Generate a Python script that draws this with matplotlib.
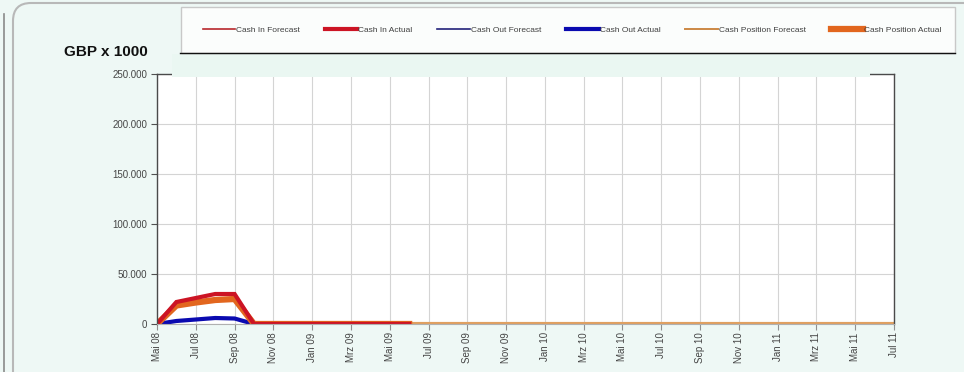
import matplotlib
matplotlib.use("Agg")
import matplotlib.pyplot as plt
import matplotlib.lines as mlines
from matplotlib.patches import FancyBboxPatch, Rectangle
from matplotlib.transforms import IdentityTransform
from matplotlib.ticker import FuncFormatter, MultipleLocator

plt.rcParams['font.family'] = ['Liberation Sans', 'DejaVu Sans']

# monthly values, Mai 08 .. Jul 11 (GBP x 1000 shown as full numbers)
cash_in_forecast = [0, 22000, 26000, 30000, 30000, 0, 0, 0, 0, 0,
                    0, 0, 0, 0, 0, 0, 0, 0, 0, 0,
                    0, 0, 0, 0, 0, 0, 0, 0, 0, 0,
                    0, 0, 0, 0, 0, 0, 0, 0, 0]
cash_out_forecast = [0, 3000, 4500, 6000, 5500, 0, 0, 0, 0, 0,
                     0, 0, 0, 0, 0, 0, 0, 0, 0, 0,
                     0, 0, 0, 0, 0, 0, 0, 0, 0, 0,
                     0, 0, 0, 0, 0, 0, 0, 0, 0]
cash_pos_forecast = [0, 18500, 21500, 24000, 25000, 0, 0, 0, 0, 0,
                     0, 0, 0, 0, 0, 0, 0, 0, 0, 0,
                     0, 0, 0, 0, 0, 0, 0, 0, 0, 0,
                     0, 0, 0, 0, 0, 0, 0, 0, 0]
# actuals only up to Jun 09
cash_in_actual = [0, 22000, 26000, 30000, 30000, 0, 0, 0, 0, 0, 0, 0, 0, 0]
cash_out_actual = [0, 3000, 4500, 6000, 5500, 0, 0, 0, 0, 0, 0, 0, 0, 0]
cash_pos_actual = [0, 18500, 21500, 24000, 25000, 0, 0, 0, 0, 0, 0, 0, 0, 0]

tick_labels = ["Mai 08", "Jul 08", "Sep 08", "Nov 08", "Jan 09", "Mrz 09", "Mai 09",
               "Jul 09", "Sep 09", "Nov 09", "Jan 10", "Mrz 10", "Mai 10", "Jul 10",
               "Sep 10", "Nov 10", "Jan 11", "Mrz 11", "Mai 11", "Jul 11"]

BG = "#eef8f5"
W, H = 964, 372

fig = plt.figure(figsize=(W / 100, H / 100), dpi=100, facecolor=BG)
ax = fig.add_axes([157 / W, 1 - 324 / H, (894 - 157) / W, (324 - 74) / H])
ax.set_facecolor("white")

# series: name, values, colour, width
series = [
    ("Cash In Forecast", cash_in_forecast, "#b8282c", 1.2),
    ("Cash Out Forecast", cash_out_forecast, "#22227a", 1.2),
    ("Cash Position Forecast", cash_pos_forecast, "#e0a060", 3.0),
    ("Cash Out Actual", cash_out_actual, "#0a0ab0", 3.0),
    ("Cash Position Actual", cash_pos_actual, "#e2661e", 4.5),
    ("Cash In Actual", cash_in_actual, "#cc1424", 3.0),
]
for name, vals, col, lw in series:
    ax.plot(range(len(vals)), vals, color=col, lw=lw, solid_joinstyle="miter")

ax.set_xlim(0, len(cash_in_forecast) - 1)
ax.set_ylim(0, 250000)
ax.set_xticks(range(0, len(cash_in_forecast), 2))
ax.set_xticklabels(tick_labels, rotation=90, fontsize=7, color="#454545")
ax.yaxis.set_major_locator(MultipleLocator(50000))
ax.yaxis.set_major_formatter(FuncFormatter(lambda v, p: f"{v:,.0f}".replace(",", ".")))
ax.tick_params(axis="y", labelsize=7, labelcolor="#454545", length=4, color="#505050", pad=3)
ax.tick_params(axis="x", length=4, color="#909090", pad=2)
ax.grid(True, color="#d4d4d4", lw=0.8)
ax.set_axisbelow(True)
for s in ["left", "right", "top"]:
    ax.spines[s].set_color("#4a4a4a")
    ax.spines[s].set_linewidth(1.0)
ax.spines["bottom"].set_color("#b0b0b0")

# legend handles get the legend-look widths
legend_style = {
    "Cash In Forecast": ("#b8282c", 1.2),
    "Cash In Actual": ("#cc1424", 3.0),
    "Cash Out Forecast": ("#22227a", 1.2),
    "Cash Out Actual": ("#0a0ab0", 3.0),
    "Cash Position Forecast": ("#cc8844", 1.4),
    "Cash Position Actual": ("#e2661e", 4.5),
}

fig.text(106 / W, 1 - 52 / H, "GBP x 1000", fontsize=11, fontweight="bold",
         ha="center", va="center", color="#111111")

# faint band over most of the top border
fig.add_artist(Rectangle((172, H - 77), 870 - 172, 23, transform=IdentityTransform(),
                         facecolor="#eaf7f2", edgecolor="none", zorder=1))

# outer frame
fig.add_artist(FancyBboxPatch((13, -40), W + 40, H - 3 + 40, transform=IdentityTransform(),
                              boxstyle="round,pad=0,rounding_size=18",
                              facecolor="none", edgecolor="#b8b8b8", lw=1.5, zorder=0.5))
fig.add_artist(mlines.Line2D([4, 4], [0, H - 14], transform=IdentityTransform(),
                             color="#8a8a8a", lw=1.2))

# legend box
fig.add_artist(Rectangle((181, H - 53), 955 - 181, 46, transform=IdentityTransform(),
                         facecolor="#fbfdfc", edgecolor="#c8c8c8", lw=1.0, zorder=1))
fig.add_artist(mlines.Line2D([180, 955], [H - 53, H - 53], transform=IdentityTransform(),
                             color="#111111", lw=1.0, zorder=1.1))

handles = [mlines.Line2D([], [], color=c, lw=lw, label=n) for n, (c, lw) in legend_style.items()]
leg = fig.legend(handles=handles, ncol=6, loc="center", bbox_to_anchor=(572 / W, 1 - 30 / H),
                 frameon=False, fontsize=6, handlelength=3.9, handletextpad=0.1,
                 columnspacing=3.0, labelcolor="#404040")
leg.set_zorder(2)

fig.savefig("out.png", dpi=100, facecolor=BG)
